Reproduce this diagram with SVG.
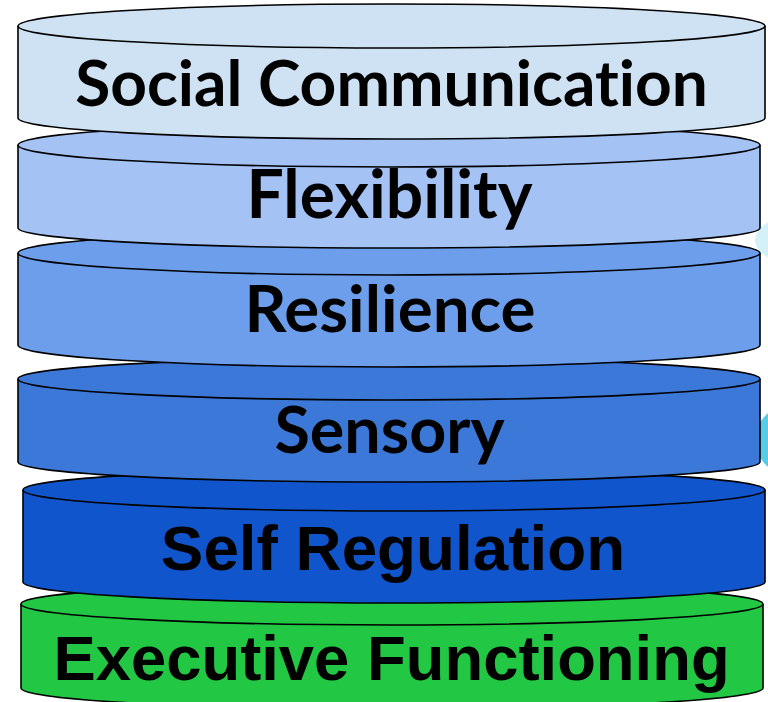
<svg xmlns="http://www.w3.org/2000/svg" width="768" height="702" viewBox="0 0 768 702">
<style>
.d{stroke:#000;stroke-width:1.6;stroke-linejoin:round}
.lt{font-family:Lato,"Liberation Sans",sans-serif;font-weight:700;fill:#000;text-anchor:middle;font-variant-ligatures:none;font-feature-settings:"liga" 0,"clig" 0}
.ar{font-family:"Liberation Sans",Arial,sans-serif;font-weight:700;fill:#000;text-anchor:middle}
</style>
<rect width="768" height="702" fill="#fff"/>
<g id="bg">
<ellipse cx="800" cy="240" rx="45" ry="25" fill="#c9eef6" opacity="0.8"/>
<ellipse cx="805" cy="440" rx="50" ry="40" fill="#3cc3e0" opacity="0.85"/>
</g>
<g id="executive-functioning">
<path class="d" fill="#22c744" d="M21,604 L21,688 A371,21 0 0 0 763,688 L763,604"/>
<ellipse class="d" fill="#22c744" cx="392" cy="604" rx="371" ry="21"/>
<text class="ar" x="391.5" y="680" font-size="63.4">Executive Functioning</text>
</g>
<g id="self-regulation">
<path class="d" fill="#1155cc" d="M23,490 L23,582 A371,21 0 0 0 765,582 L765,490"/>
<ellipse class="d" fill="#1155cc" cx="394" cy="490" rx="371" ry="21"/>
<text class="ar" x="393" y="570" font-size="63.8">Self Regulation</text>
</g>
<g id="sensory">
<path class="d" fill="#3c78d8" d="M18,379 L18,462 A371,20 0 0 0 760,462 L760,379"/>
<ellipse class="d" fill="#3c78d8" cx="389" cy="379" rx="371" ry="21"/>
<text class="lt" x="389.5" y="453" font-size="64.6">Sensory</text>
</g>
<g id="resilience">
<path class="d" fill="#6d9eeb" d="M18,253 L18,345 A371,22 0 0 0 760,345 L760,253"/>
<ellipse class="d" fill="#6d9eeb" cx="389" cy="253" rx="371" ry="22"/>
<text class="lt" x="390" y="332" font-size="65.5">Resilience</text>
</g>
<g id="flexibility">
<path class="d" fill="#a4c2f4" d="M18,145 L18,228 A371,20 0 0 0 760,228 L760,145"/>
<ellipse class="d" fill="#a4c2f4" cx="389" cy="145" rx="371" ry="22"/>
<text class="lt" x="389.5" y="218" font-size="66">Flexibility</text>
</g>
<g id="social-communication">
<path class="d" fill="#cfe2f3" d="M18,26 L18,118 A373.5,21 0 0 0 765,118 L765,26"/>
<ellipse class="d" fill="#cfe2f3" cx="391.5" cy="26" rx="373.5" ry="22"/>
<text class="lt" x="391.5" y="106" font-size="64">Social Communication</text>
</g>
<g id="connectors"/>
</svg>
